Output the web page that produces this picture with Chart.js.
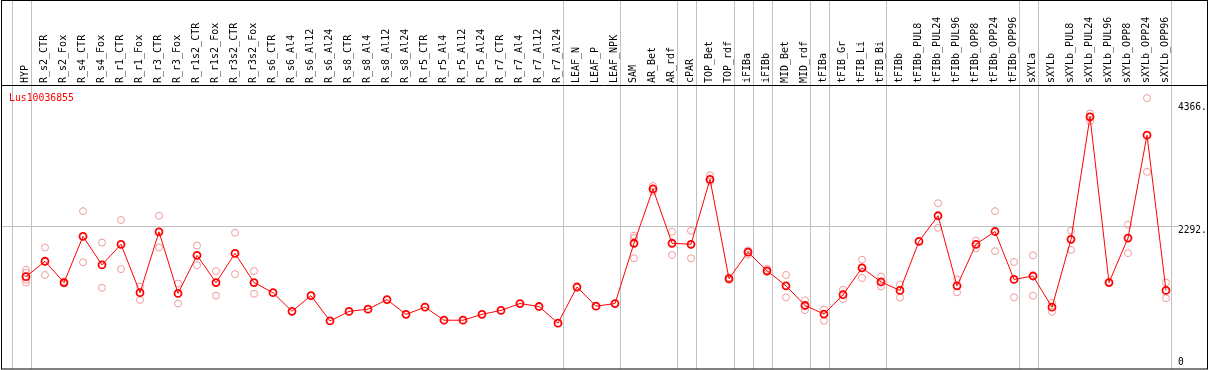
<!DOCTYPE html>
<html>
<head>
<meta charset="utf-8">
<script src="https://cdn.jsdelivr.net/npm/chart.js@4.4.1/dist/chart.umd.min.js"></script>
<style>
  html, body { margin: 0; padding: 0; background: #fff; }
  #wrap { width: 1209px; height: 370px; position: relative; }
</style>
</head>
<body>
<div id="wrap"><canvas id="chart"></canvas></div>
<script>
// gene shown in the panel
const geneName = "Lus10036855";

// sample names (x categories)
const samples = [
  "HYP", "R_s2_CTR", "R_s2_Fox", "R_s4_CTR", "R_s4_Fox", "R_r1_CTR", "R_r1_Fox",
  "R_r3_CTR", "R_r3_Fox", "R_r1s2_CTR", "R_r1s2_Fox", "R_r3s2_CTR", "R_r3s2_Fox",
  "R_s6_CTR", "R_s6_Al4", "R_s6_Al12", "R_s6_Al24", "R_s8_CTR", "R_s8_Al4",
  "R_s8_Al12", "R_s8_Al24", "R_r5_CTR", "R_r5_Al4", "R_r5_Al12", "R_r5_Al24",
  "R_r7_CTR", "R_r7_Al4", "R_r7_Al12", "R_r7_Al24", "LEAF_N", "LEAF_P", "LEAF_NPK",
  "SAM", "AR_Bet", "AR_rdf", "cPAR", "TOP_Bet", "TOP_rdf", "iFIBa", "iFIBb",
  "MID_Bet", "MID_rdf", "tFIBa", "tFIB_Gr", "tFIB_Li", "tFIB_Bi", "tFIBb",
  "tFIBb_PUL8", "tFIBb_PUL24", "tFIBb_PUL96", "tFIBb_OPP8", "tFIBb_OPP24", "tFIBb_OPP96",
  "sXYLa", "sXYLb", "sXYLb_PUL8", "sXYLb_PUL24", "sXYLb_PUL96", "sXYLb_OPP8",
  "sXYLb_OPP24", "sXYLb_OPP96"
];

// mean expression per sample
const meanValues = [
  1428, 1689, 1329, 2109, 1628, 1976, 1158, 2187, 1146, 1789, 1329, 1822, 1329,
  1158, 844, 1108, 681, 842, 880, 1041, 792, 913, 693, 693, 792,
  859, 975, 925, 643, 1254, 930, 975,
  1993, 2911, 1993, 1976, 3072, 1395, 1843, 1528,
  1274, 942, 797, 1124, 1578, 1340, 1196,
  2026, 2458, 1274, 1976, 2192, 1383,
  1440, 913, 2059, 4130, 1329, 2081, 3820, 1196
];

// replicate values (upper / lower), null where hidden under the mean
const repHigh = [
  1545, 1922, 1345, 2536, 2005, 2387, 1262, 2458, 1312, 1955, 1523, 2171, 1523,
  null, null, null, null, null, null, null, null, null, null, null, null,
  null, null, null, null, null, null, null,
  2121, 2961, 2187, 2204, 3144, 1373, 1872, 1566,
  1457, 1030, 875, 1207, 1716, 1428, 1295,
  null, 2669, 1383, 2038, 2536, 1677,
  1789, 985, 2204, 4185, 1340, 2308, 4446, 1329
];
const repLow = [
  1329, 1457, 1312, 1672, 1241, 1556, 1035, 1922, 975, 1623, 1108, 1473, 1141,
  null, null, null, null, null, null, null, null, null, null, null, null,
  null, null, null, null, null, null, null,
  1739, 2868, 1794, 1739, 3034, 1417, 1799, 1506,
  1080, 864, 686, 1051, 1407, 1262, 1075,
  null, 2254, 1163, 1905, 1860, 1080,
  1108, 835, 1882, 4057, null, 1827, 3200, 1063
];
// extra replicates for samples with more than two
const repExtraSamples = ["HYP", "HYP", "SAM"];
const repExtraValues = [1495, 1378, 2081];

// right-hand value labels
const yTickValues = [0, 2292, 4366];
// last sample index of each group (-1 = leading line)
const groupEnds = [-1, 0, 28, 31, 34, 35, 37, 38, 39, 41, 42, 45, 52, 53, 60];

const monoFont = "'DejaVu Sans Mono', monospace";
const pink = "#f09a9a";

const panelPlugin = {
  id: "panel",
  beforeDatasetsDraw(chart) {
    const { ctx, scales: { x, y } } = chart;
    const step = x.getPixelForValue(1) - x.getPixelForValue(0);
    ctx.save();
    ctx.strokeStyle = "#c0c0c0";
    ctx.lineWidth = 1;
    // reference line at the middle label
    const gy = Math.round(y.getPixelForValue(yTickValues[1])) + 0.5;
    ctx.beginPath();
    ctx.moveTo(2, gy);
    ctx.lineTo(1178, gy);
    ctx.stroke();
    // group separators
    groupEnds.forEach((i) => {
      const gx = Math.round(x.getPixelForValue(i) + step * 0.25) + 0.5;
      ctx.beginPath();
      ctx.moveTo(gx, 0);
      ctx.lineTo(gx, 369);
      ctx.stroke();
    });
    ctx.restore();
  },
  afterDraw(chart) {
    const { ctx, scales: { y } } = chart;
    ctx.save();
    // frame
    ctx.strokeStyle = "#000";
    ctx.lineWidth = 1;
    ctx.strokeRect(1.5, 0.5, 1206, 368.5);
    ctx.beginPath();
    ctx.moveTo(1, 85.5);
    ctx.lineTo(1208, 85.5);
    ctx.stroke();
    // title
    ctx.font = "9.8px " + monoFont;
    ctx.fillStyle = "#ff0000";
    ctx.textBaseline = "alphabetic";
    ctx.textAlign = "left";
    ctx.fillText(geneName, 9, 101);
    // value labels
    ctx.fillStyle = "#000";
    ctx.font = "9.6px " + monoFont;
    ctx.textBaseline = "top";
    yTickValues.forEach((v) => {
      const py = Math.min(y.getPixelForValue(v), 358);
      ctx.fillText(v === 0 ? "0" : v + ".", 1178, py);
    });
    ctx.restore();
  }
};

new Chart(document.getElementById("chart"), {
  type: "line",
  data: {
    labels: samples,
    datasets: [
      {
        data: meanValues,
        borderColor: "#ff0000",
        borderWidth: 1,
        pointRadius: 3.5,
        pointBorderWidth: 1.8,
        pointBorderColor: "#ff0000",
        pointBackgroundColor: "rgba(0,0,0,0)",
        order: 0
      },
      {
        data: repHigh,
        showLine: false,
        pointRadius: 3.5,
        pointBorderWidth: 1,
        pointBorderColor: pink,
        pointBackgroundColor: "rgba(0,0,0,0)",
        order: 1
      },
      {
        data: repLow,
        showLine: false,
        pointRadius: 3.5,
        pointBorderWidth: 1,
        pointBorderColor: pink,
        pointBackgroundColor: "rgba(0,0,0,0)",
        order: 1
      },
      {
        data: repExtraSamples.map((s, i) => ({ x: s, y: repExtraValues[i] })),
        showLine: false,
        pointRadius: 3.5,
        pointBorderWidth: 1,
        pointBorderColor: pink,
        pointBackgroundColor: "rgba(0,0,0,0)",
        order: 1
      }
    ]
  },
  options: {
    responsive: true,
    maintainAspectRatio: false,
    devicePixelRatio: 1,
    animation: false,
    events: [],
    layout: { padding: { top: 0, left: 16.5, right: 33.5, bottom: 1 } },
    plugins: { legend: { display: false }, tooltip: { enabled: false } },
    scales: {
      x: {
        position: "top",
        offset: true,
        afterFit: (s) => { s.height = 86; },
        grid: { display: false, drawTicks: false },
        border: { display: false },
        ticks: {
          autoSkip: false,
          minRotation: 90,
          maxRotation: 90,
          padding: 3,
          labelOffset: 11,
          color: "#000",
          font: { family: monoFont, size: 10 }
        }
      },
      y: {
        display: false,
        min: -50,
        max: 4650
      }
    }
  },
  plugins: [panelPlugin]
});
</script>
</body>
</html>
